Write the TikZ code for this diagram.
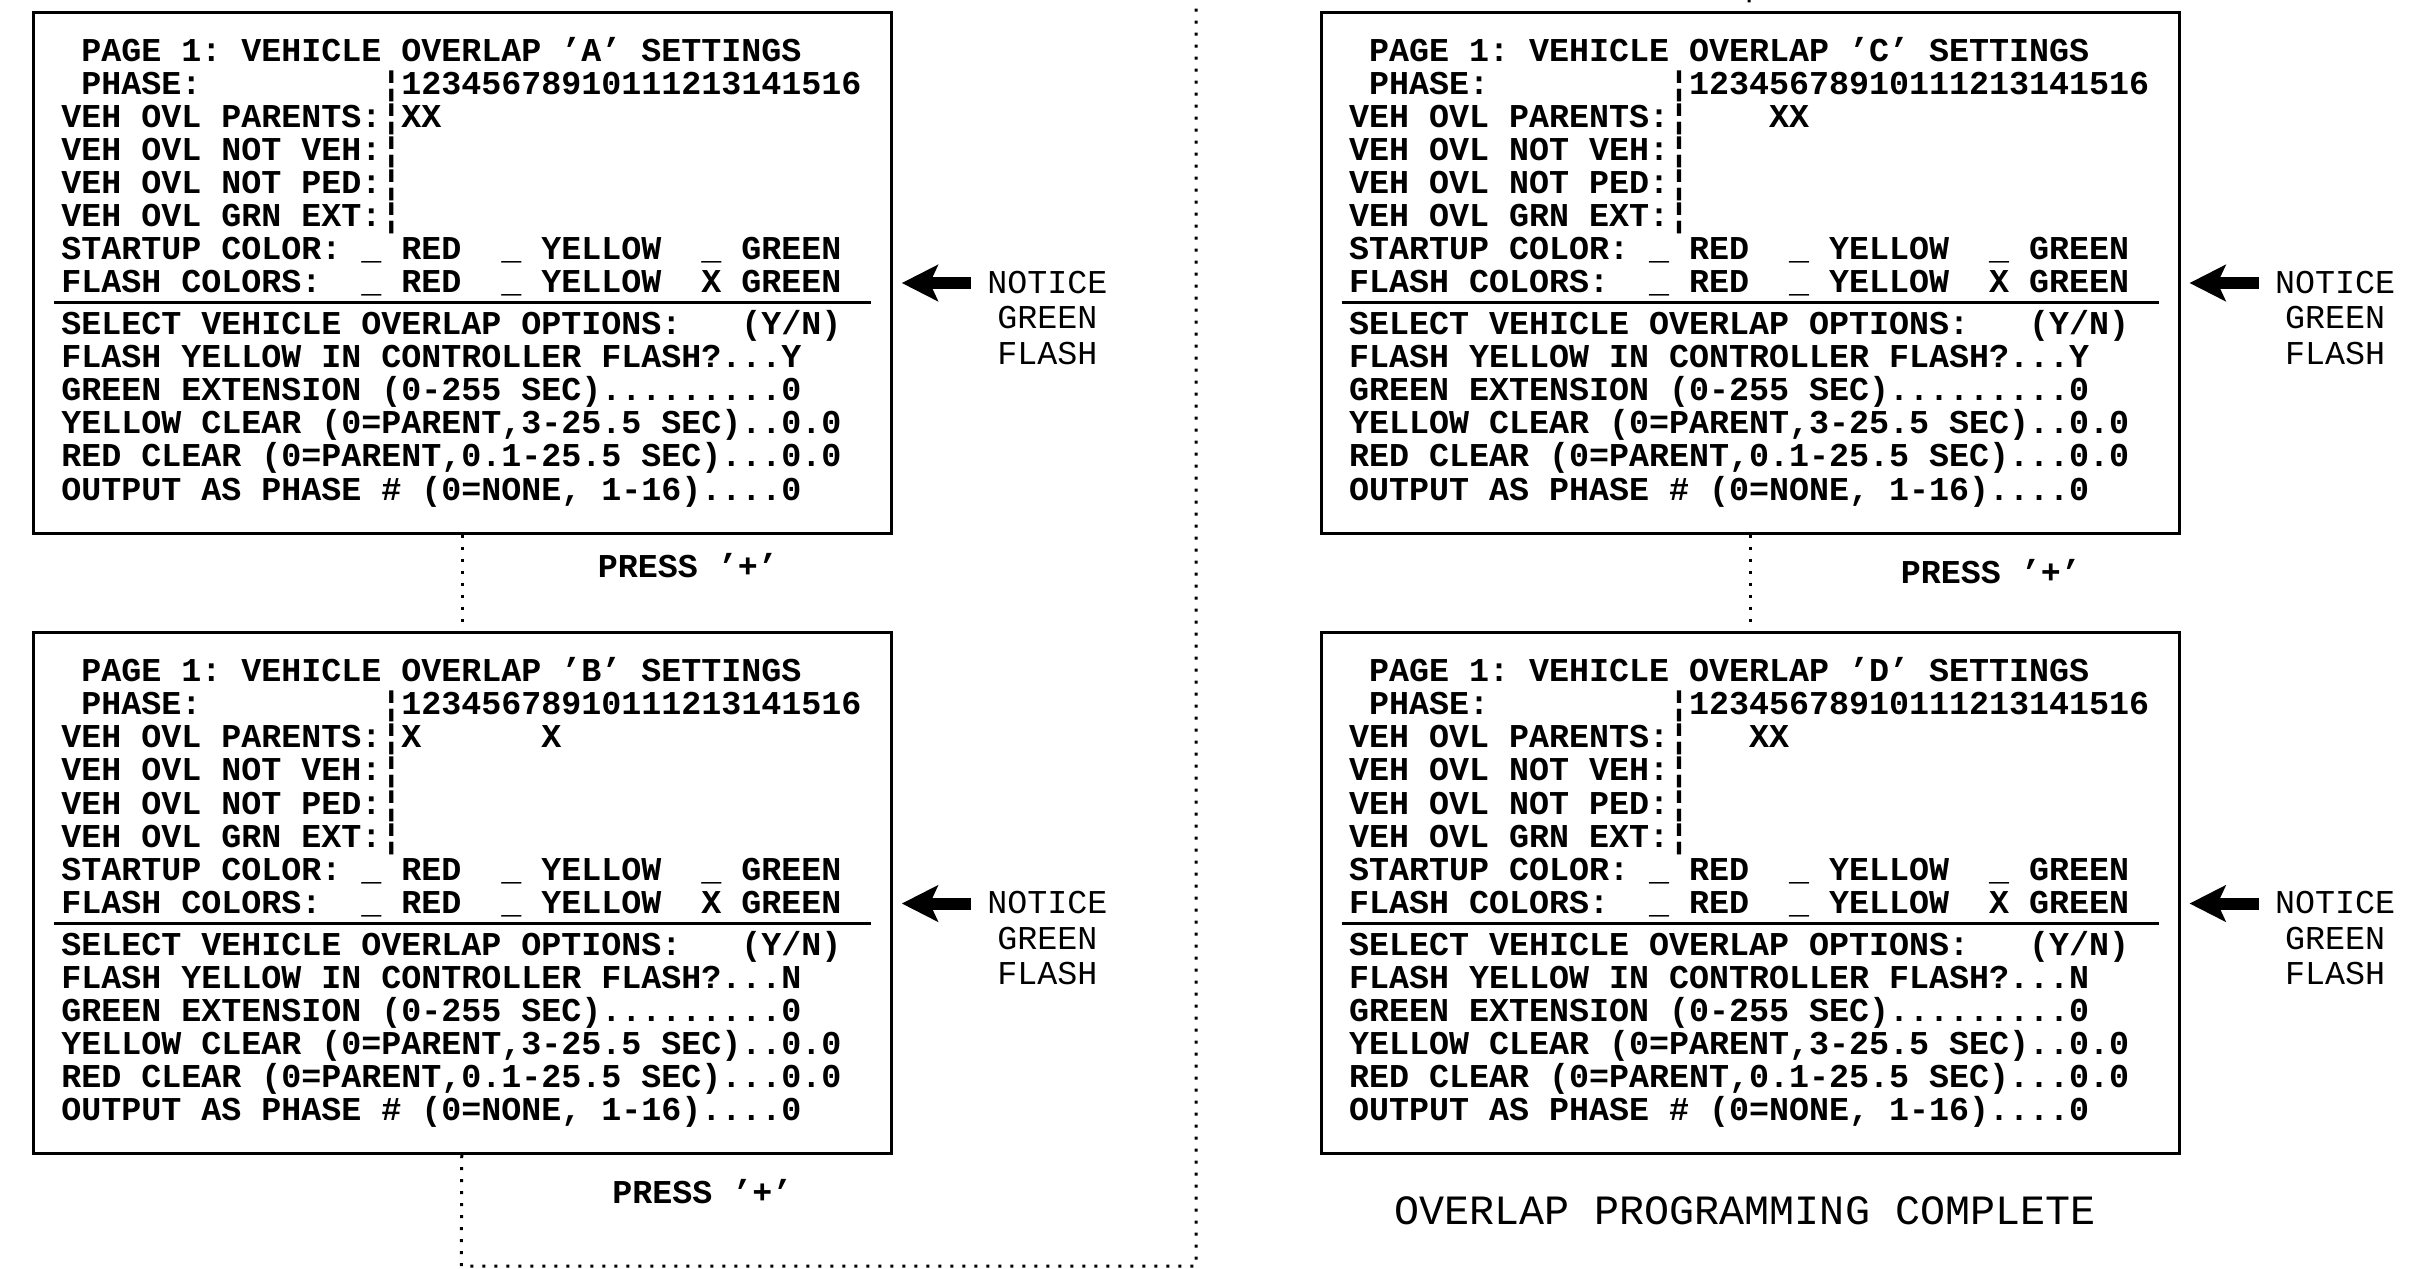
\documentclass[tikz,border=0pt]{standalone}
\usepackage{fontspec}
\newfontfamily\cadfont{Liberation Mono}[Ligatures=TeX]
\usetikzlibrary{arrows.meta}
\tikzset{
  panel/.style={draw, line width=0.75pt, anchor=north west, inner sep=0pt,
    minimum width=214.5pt, minimum height=130.25pt},
  row/.style={anchor=base west, inner sep=0pt, outer sep=0pt,
    font=\cadfont\bfseries\fontsize{8.333pt}{10pt}\selectfont\frenchspacing},
  note/.style={anchor=base, inner sep=0pt,
    font=\cadfont\fontsize{8.333pt}{10pt}\selectfont},
  press/.style={anchor=base west, inner sep=0pt,
    font=\cadfont\bfseries\fontsize{8.333pt}{10pt}\selectfont},
  bigtext/.style={anchor=base, inner sep=0pt,
    font=\cadfont\fontsize{10.42pt}{12pt}\selectfont},
  sepline/.style={line width=0.75pt},
  flow/.style={line width=0.75pt, dash pattern=on 0.75pt off 2.25pt},
  notearrow/.style={line width=3pt, -{Stealth[length=9pt,width=9pt,inset=2pt]}},
}
\newcommand\ovlpanel[6]{%
  \node[panel] (#1) at (#2,#3) {};
  \begin{scope}[shift={(#2,#3)}]
    \node[row] (#1r1) at (29,50.7) {~PAGE 1: VEHICLE OVERLAP '#4' SETTINGS};
    \node[row] (#1r2) at (29,83.8) {~PHASE:~~~~~~~~~¦12345678910111213141516};
    \node[row] (#1r3) at (29,116.8) {VEH OVL PARENTS:¦#5};
    \node[row] (#1r4) at (29,149.9) {VEH OVL NOT VEH:¦};
    \node[row] (#1r5) at (29,183.0) {VEH OVL NOT PED:¦};
    \node[row] (#1r6) at (29,216.0) {VEH OVL GRN EXT:¦};
    \node[row] (#1r7) at (29,249.1) {STARTUP COLOR: \_ RED~~\_ YELLOW~~\_ GREEN};
    \node[row] (#1r8) at (29,282.2) {FLASH COLORS:~~\_ RED~~\_ YELLOW~~X GREEN};
    \draw[sepline] (21.5,292.4) -- (838.5,292.4);
    \node[row] (#1r9) at (29,324.2) {SELECT VEHICLE OVERLAP OPTIONS:~~~(Y/N)};
    \node[row] (#1r10) at (29,357.3) {FLASH YELLOW IN CONTROLLER FLASH?...#6};
    \node[row] (#1r11) at (29,390.3) {GREEN EXTENSION (0-255 SEC).........0};
    \node[row] (#1r12) at (29,423.4) {YELLOW CLEAR (0=PARENT,3-25.5 SEC)..0.0};
    \node[row] (#1r13) at (29,456.4) {RED CLEAR (0=PARENT,0.1-25.5 SEC)...0.0};
    \node[row] (#1r14) at (29,489.5) {OUTPUT AS PHASE \# (0=NONE, 1-16)....0};
    \coordinate (#1at) at (938.5,272.5);
    \coordinate (#1ah) at (869.5,272.5);
    \draw[notearrow] (#1at) -- (#1ah);
    \node[note] (#1n1) at (1015,282.5) {NOTICE};
    \node[note] (#1n2) at (1015,318) {GREEN};
    \node[note] (#1n3) at (1015,353.5) {FLASH};
  \end{scope}}
\begin{document}
\begin{tikzpicture}[x=0.25pt,y=-0.25pt]
  \useasboundingbox (0,0) rectangle (2416,1268);
  \clip (0,0) rectangle (2416,1268);
  \ovlpanel{A}{32.3}{10.5}{A}{XX}{Y}
  \ovlpanel{B}{32.3}{631}{B}{X~~~~~~X}{N}
  \ovlpanel{C}{1320}{10.5}{C}{~~~~XX}{Y}
  \ovlpanel{D}{1320}{631}{D}{~~~XX}{N}
  \node[press] (pa) at (597,577.6) {PRESS '+'};
  \node[press] (pb) at (611.5,1203) {PRESS '+'};
  \node[press] (pc) at (1900,583) {PRESS '+'};
  \node[bigtext] (done) at (1745,1224) {OVERLAP PROGRAMMING COMPLETE};
  \coordinate (bl) at (461.3,1266);
  \coordinate (br) at (1196,1266);
  \coordinate (tr) at (1196,-30);
  \coordinate (tl) at (1749,-30);
  \draw[flow] (A) -- (B);
  \draw[flow] (B) -- (bl) -- (br) -- (tr) -- (tl) -- (C);
  \draw[flow] (C) -- (D);
\end{tikzpicture}
\end{document}
